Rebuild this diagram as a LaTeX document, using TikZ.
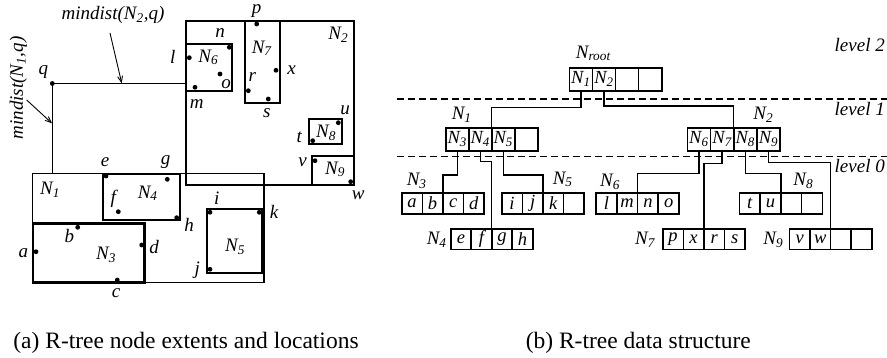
\documentclass[tikz,border=0pt]{standalone}
\usepackage{fontspec}
\setmainfont{Liberation Serif}
\usetikzlibrary{arrows.meta}
\newcommand{\Nsb}[1]{\textit{N}\textsubscript{\textit{#1}}}
\tikzset{
  lab/.style={font=\fontsize{19}{20}\selectfont\itshape, inner sep=0},
  dotpt/.style={circle, fill, inner sep=0, minimum size=4.8},
  reg/.style={draw, line width=1.9},
  thinreg/.style={draw, line width=1.4},
  cell/.style={draw, line width=1.6, inner sep=0, outer sep=0, anchor=north west,
    font=\fontsize{18.5}{20}\selectfont\itshape},
  conn/.style={draw, line width=1.4},
  lvl/.style={draw, line width=1.3, dash pattern=on 7pt off 4pt},
  captext/.style={font=\fontsize{23.5}{26}\selectfont, inner sep=0, anchor=base},
  arr/.style={draw, line width=0.9, -{Straight Barb[length=6pt,width=5pt]}},
}
% record of four cells: #1 name, #2 x, #3 y, #4 cell width, #5 height, #6-#9 contents
\newcommand{\rec}[9]{%
  \node[cell, minimum width=#4, minimum height=#5] (#1-1) at (#2,#3) {#6};
  \node[cell, minimum width=#4, minimum height=#5] (#1-2) at (#1-1.north east) {#7};
  \node[cell, minimum width=#4, minimum height=#5] (#1-3) at (#1-2.north east) {#8};
  \node[cell, minimum width=#4, minimum height=#5] (#1-4) at (#1-3.north east) {#9};
}
\begin{document}
\begin{tikzpicture}[x=1pt,y=-1pt]
\useasboundingbox (0,0) rectangle (887,357);

% ---------------- (a) left panel ----------------
\draw[thinreg] (32.7,173.3) rectangle (264,282.3);   % N1
\draw[reg] (185.7,20.7) rectangle (354,185);         % N2
\draw[line width=2.4] (32.7,223.3) rectangle (144.3,282.3); % N3
\draw[reg] (103.3,173.8) rectangle (180,220.3);      % N4
\draw[reg] (206.7,209.3) rectangle (262.3,273.3);    % N5
\draw[reg] (185.7,44) rectangle (232.3,91);          % N6
\draw[reg] (245,20.7) rectangle (280,102.7);         % N7
\draw[reg] (309.3,119) rectangle (342.3,144);        % N8
\draw[reg] (312.3,155.7) rectangle (354,185);        % N9

\foreach \n/\x/\y in {p/256.7/24, n/229.3/47.3, l/189.3/57.7, o/220/74, m/195/87.3,
  x/276/70.3, r/248.3/90.7, s/268.3/99, u/338.3/122.7, t/312.7/140.7, v/315/160.7,
  w/350.7/181.7, e/106/176, g/167.3/179.3, f/118.3/211.7, h/176.7/217.7,
  i/210/212.3, k/259.3/212.3, j/210/269.3, b/77.7/227.3, a/36/251.7,
  d/141.7/245, c/117.3/280, q/52.3/83.5}
  \node[dotpt] (\n) at (\x,\y) {};

\foreach \n/\x/\y in {p/256.7/10.8, n/220/33, l/172.7/56.7, o/226/84, m/196.7/104,
  x/291.7/70, r/252.3/77.3, s/266.7/113.3, u/345/110, t/299.3/137.3, v/302.7/162.7,
  w/358.3/195, e/105/161.7, g/165.7/161.7, f/113.3/199.3, h/189/225,
  i/216.7/198.3, k/274/212.3, j/197.3/270, b/69.3/236, a/23.3/253.3,
  d/154/247.3, c/116/293.3, q/43.3/71.7}
  \node[lab] (lab-\n) at (\x,\y) {\n};

\foreach \k/\x/\y in {1/50/190, 2/338.3/35, 3/106/255, 4/147.7/193.3, 5/235/246.7,
  6/208.3/57.3, 7/261.7/48.3, 8/326/132.7, 9/335/169.3}
  \node[lab] (reg-\k) at (\x,\y) {\Nsb{\k}};

% mindist lines
\coordinate (N2w) at (185.7,83.5);
\coordinate (N1n) at (52.3,173.3);
\draw[line width=1.1] (q.center) -- (N2w);
\draw[line width=1.1] (q.center) -- (N1n);

\node[lab] (md2) at (113,15) {mindist(\Nsb{2},q)};
\node[lab, rotate=90] (md1) at (18.3,88) {mindist(\Nsb{1},q)};
\coordinate (a2s) at (110,33);
\coordinate (a2e) at (121.7,83.2);
\coordinate (a1s) at (26.7,100);
\coordinate (a1e) at (52,123.3);
\draw[arr] (a2s) -- (a2e);
\draw[arr] (a1s) -- (a1e);

\node[captext] (capa) at (186,348.3) {(a) R-tree node extents and locations};

% ---------------- (b) right panel ----------------
\coordinate (d1a) at (396.7,99);
\coordinate (d1b) at (887,99);
\coordinate (d0a) at (396.7,156.7);
\coordinate (d0b) at (887,156.7);
\draw[lvl] (d1a) -- (d1b);
\draw[lvl] (d0a) -- (d0b);
\node[lab, anchor=east] (lv2) at (885,45) {level 2};
\node[lab, anchor=east] (lv1) at (885,109) {level 1};
\node[lab, anchor=east] (lv0) at (885,166) {level 0};

\rec{root}{569.3}{67.7}{23.1}{23}{\Nsb{1}}{\Nsb{2}}{}{}
\rec{nA}{445.7}{127.7}{23}{23}{\Nsb{3}}{\Nsb{4}}{\Nsb{5}}{}
\rec{nB}{687.3}{127.7}{23.2}{23}{\Nsb{6}}{\Nsb{7}}{\Nsb{8}}{\Nsb{9}}

\rec{lf3}{401.7}{192.7}{20.6}{21.3}{a}{b}{c}{d}
\rec{lf5}{501.7}{192.7}{20.6}{21.3}{i}{j}{k}{}
\rec{lf6}{596}{192.7}{20.75}{21.3}{l}{m}{n}{o}
\rec{lf8}{739.3}{192.7}{20.75}{21.3}{t}{u}{}{}
\rec{lf4}{450.7}{229}{20.5}{20.3}{e}{f}{g}{h}
\rec{lf7}{662.7}{229}{20.6}{20.3}{p}{x}{r}{s}
\rec{lf9}{789.3}{229}{20.6}{20.3}{v}{w}{}{}

\node[lab] (tRoot) at (593.3,53.3) {\textit{N}\textsubscript{\textit{root}}};
\node[lab] (tN1) at (461.7,115) {\Nsb{1}};
\node[lab] (tN2) at (763.3,115) {\Nsb{2}};
\node[lab] (tN3) at (416.7,180.7) {\Nsb{3}};
\node[lab] (tN5) at (562.7,179.3) {\Nsb{5}};
\node[lab] (tN6) at (610,181.7) {\Nsb{6}};
\node[lab] (tN8) at (803.3,180.7) {\Nsb{8}};
\node[lab] (tN4) at (436.7,240) {\Nsb{4}};
\node[lab] (tN7) at (645,240) {\Nsb{7}};
\node[lab] (tN9) at (773.3,240) {\Nsb{9}};

\draw[conn] (root-1.south) -- ++(0,16.6) -| (nA-2.north east);
\draw[conn] (root-2.south) -- ++(0,15.3) -| (nB-2.north east);
\draw[conn] (nA-1.south) -- ++(0,24.3) -| (lf3-2.north east);
\draw[conn] (nA-2.south) -- ++(0,10.6) -| (lf4-2.north east);
\draw[conn] (nA-3.south) -- ++(0,24.3) -| (lf5-2.north east);
\draw[conn] (nB-1.south) -- ++(0,22.6) -| (lf6-2.north east);
\draw[conn] (nB-2.south) -- ++(0,12.6) -| (lf7-2.north east);
\draw[conn] (nB-3.south) -- ++(0,22.6) -| (lf8-2.north east);
\draw[conn] (nB-4.south) -- ++(0,11.6) -| (lf9-2.north east);

\node[captext] (capb) at (638.3,348.3) {(b) R-tree data structure};
\end{tikzpicture}
\end{document}
